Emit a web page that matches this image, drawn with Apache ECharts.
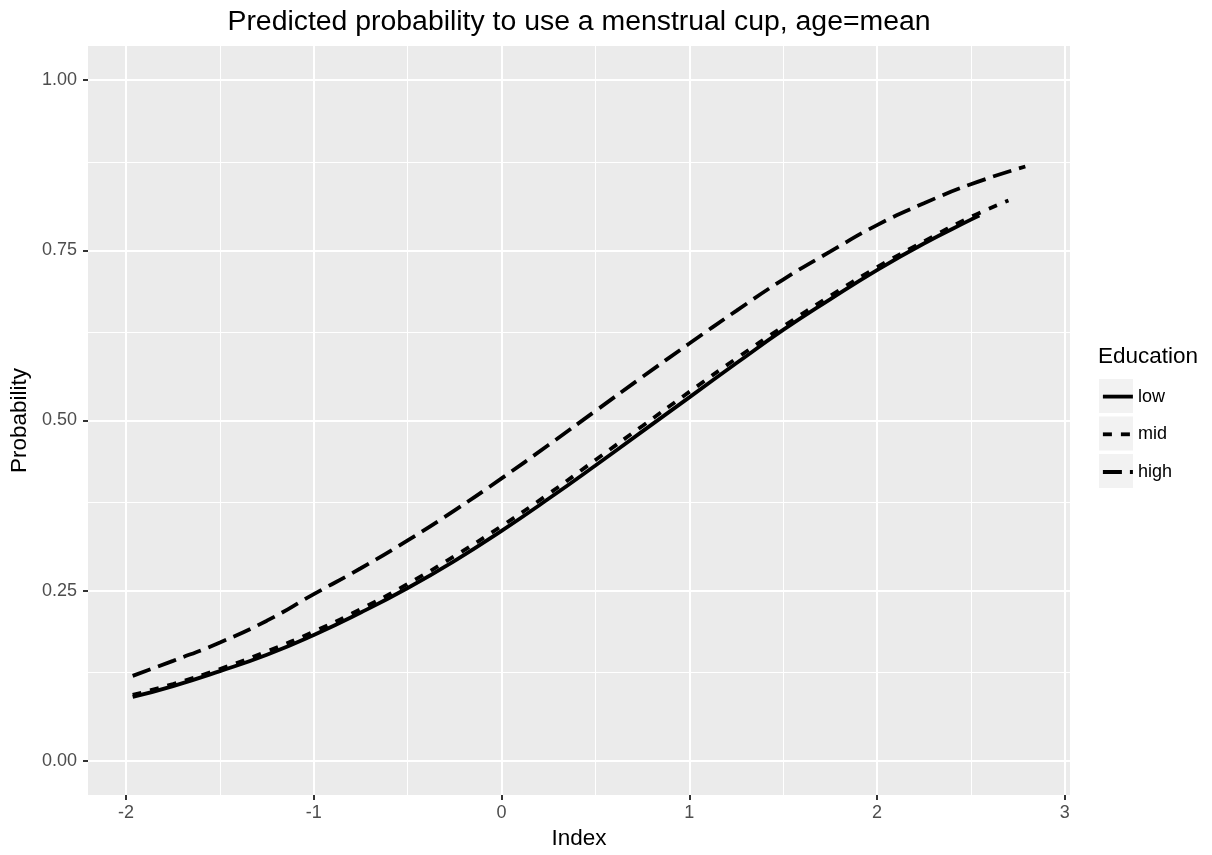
<!DOCTYPE html>
<html><head><meta charset="utf-8">
<script src="https://cdn.jsdelivr.net/npm/echarts@6/dist/echarts.min.js"></script>
<style>html,body{margin:0;padding:0;background:#fff}#c{width:1212px;height:855px}</style>
</head><body><div id="c"></div>
<script>
const titleText = "Predicted probability to use a menstrual cup, age=mean";
const xTicks = [-2, -1, 0, 1, 2, 3];
const xMinor = [-1.5, -0.5, 0.5, 1.5, 2.5];
const yTicks = [0, 0.25, 0.5, 0.75, 1];
const yMinor = [0.125, 0.375, 0.625, 0.875];
const yTickLabels = ["0.00", "0.25", "0.50", "0.75", "1.00"];

const xLow  = [-1.965,-1.75,-1.5,-1.25,-1,-0.75,-0.5,-0.25,0,0.25,0.5,0.75,1,1.25,1.5,1.75,2,2.25,2.5,2.545];
const yLow  = [0.094,0.110,0.132,0.156,0.185,0.218,0.254,0.294,0.338,0.385,0.434,0.484,0.534,0.584,0.633,0.678,0.721,0.760,0.795,0.801];
const xMid  = [-1.965,-1.75,-1.5,-1.25,-1,-0.75,-0.5,-0.25,0,0.25,0.5,0.75,1,1.25,1.5,1.75,2,2.25,2.5,2.7];
const yMid  = [0.097,0.113,0.135,0.161,0.190,0.223,0.260,0.301,0.345,0.392,0.442,0.492,0.542,0.591,0.638,0.683,0.725,0.763,0.799,0.823];
const xHigh = [-1.965,-1.75,-1.5,-1.25,-1,-0.75,-0.5,-0.25,0,0.25,0.5,0.75,1,1.25,1.5,1.75,2,2.25,2.5,2.79];
const yHigh = [0.125,0.147,0.174,0.206,0.245,0.283,0.324,0.368,0.415,0.464,0.514,0.564,0.613,0.661,0.707,0.748,0.787,0.819,0.847,0.873];

const FONT = '"Liberation Sans", Arial, Helvetica, sans-serif';
const zip = (xs, ys) => xs.map((x, i) => [x, ys[i]]);

const gridLines = [];
xTicks.forEach(v => gridLines.push({xAxis: v, lineStyle: {width: 2}}));
xMinor.forEach(v => gridLines.push({xAxis: v, lineStyle: {width: 1}}));
yTicks.forEach(v => gridLines.push({yAxis: v, lineStyle: {width: 2}}));
yMinor.forEach(v => gridLines.push({yAxis: v, lineStyle: {width: 1}}));

const LW = 3.8;
const chart = echarts.init(document.getElementById('c'), null, {renderer: 'canvas'});
chart.setOption({
  animation: false,
  backgroundColor: '#ffffff',
  title: {
    text: titleText, left: 579, top: 8, textAlign: 'center', padding: 0,
    textStyle: {fontFamily: FONT, fontSize: 28.4, fontWeight: 'normal', color: '#000'}
  },
  grid: {left: 88, right: 142, top: 46, bottom: 60, show: true, backgroundColor: '#EBEBEB', borderWidth: 0},
  xAxis: {
    type: 'value', min: -2.203, max: 3.028,
    name: 'Index', nameLocation: 'middle', nameGap: 30,
    nameTextStyle: {fontFamily: FONT, fontSize: 22.5, color: '#000'},
    axisLine: {show: true, onZero: false, lineStyle: {color: 'rgba(0,0,0,0)', width: 0.01}},
    axisTick: {show: true, customValues: xTicks, length: 5, lineStyle: {color: '#333', width: 2}},
    axisLabel: {customValues: xTicks, margin: 9, fontFamily: FONT, fontSize: 18, color: '#4D4D4D',
      formatter: v => String(v)},
    splitLine: {show: false}
  },
  yAxis: {
    type: 'value', min: -0.05, max: 1.05,
    name: 'Probability', nameLocation: 'middle', nameGap: 53,
    nameTextStyle: {fontFamily: FONT, fontSize: 22.5, color: '#000'},
    axisLine: {show: true, onZero: false, lineStyle: {color: 'rgba(0,0,0,0)', width: 0.01}},
    axisTick: {show: true, customValues: yTicks, length: 5, lineStyle: {color: '#333', width: 2}},
    axisLabel: {customValues: yTicks, margin: 11, fontFamily: FONT, fontSize: 18, color: '#4D4D4D',
      formatter: v => yTickLabels[yTicks.findIndex(t => Math.abs(t - v) < 1e-9)]},
    splitLine: {show: false}
  },
  legend: {
    orient: 'vertical', left: 1096, top: 378, padding: 5,
    itemWidth: 30, itemHeight: 34, itemGap: 10.5,
    data: ['low', 'mid', 'high'],
    textStyle: {fontFamily: FONT, fontSize: 18, color: '#000'},
    itemStyle: {opacity: 0},
    lineStyle: {width: LW, cap: 'butt'},
    selectedMode: false
  },
  graphic: [
    {type: 'text', left: 1098, top: 345, z: 10, style: {text: 'Education', font: '22.5px ' + FONT, fill: '#000'}},
    {type: 'rect', left: 1099, top: 379, z: 0, shape: {width: 34, height: 34}, style: {fill: '#F2F2F2'}},
    {type: 'rect', left: 1099, top: 416.5, z: 0, shape: {width: 34, height: 34}, style: {fill: '#F2F2F2'}},
    {type: 'rect', left: 1099, top: 454, z: 0, shape: {width: 34, height: 34}, style: {fill: '#F2F2F2'}}
  ],
  series: [
    {
      name: 'grid', type: 'line', data: [], silent: true, z: 1,
      markLine: {silent: true, symbol: ['none', 'none'], z: 1, animation: false,
        label: {show: false}, lineStyle: {color: '#ffffff', type: 'solid'}, data: gridLines}
    },
    {name: 'low', type: 'line', data: zip(xLow, yLow), showSymbol: false, symbol: 'none', smooth: true, z: 3,
      lineStyle: {color: '#000', width: LW, type: 'solid', cap: 'butt'}, itemStyle: {color: '#000'}},
    {name: 'mid', type: 'line', data: zip(xMid, yMid), showSymbol: false, symbol: 'none', smooth: true, z: 3,
      lineStyle: {color: '#000', width: LW, type: [9, 9], cap: 'butt'}, itemStyle: {color: '#000'}},
    {name: 'high', type: 'line', data: zip(xHigh, yHigh), showSymbol: false, symbol: 'none', smooth: true, z: 3,
      lineStyle: {color: '#000', width: LW, type: [19, 8], cap: 'butt'}, itemStyle: {color: '#000'}}
  ]
});
</script></body></html>
